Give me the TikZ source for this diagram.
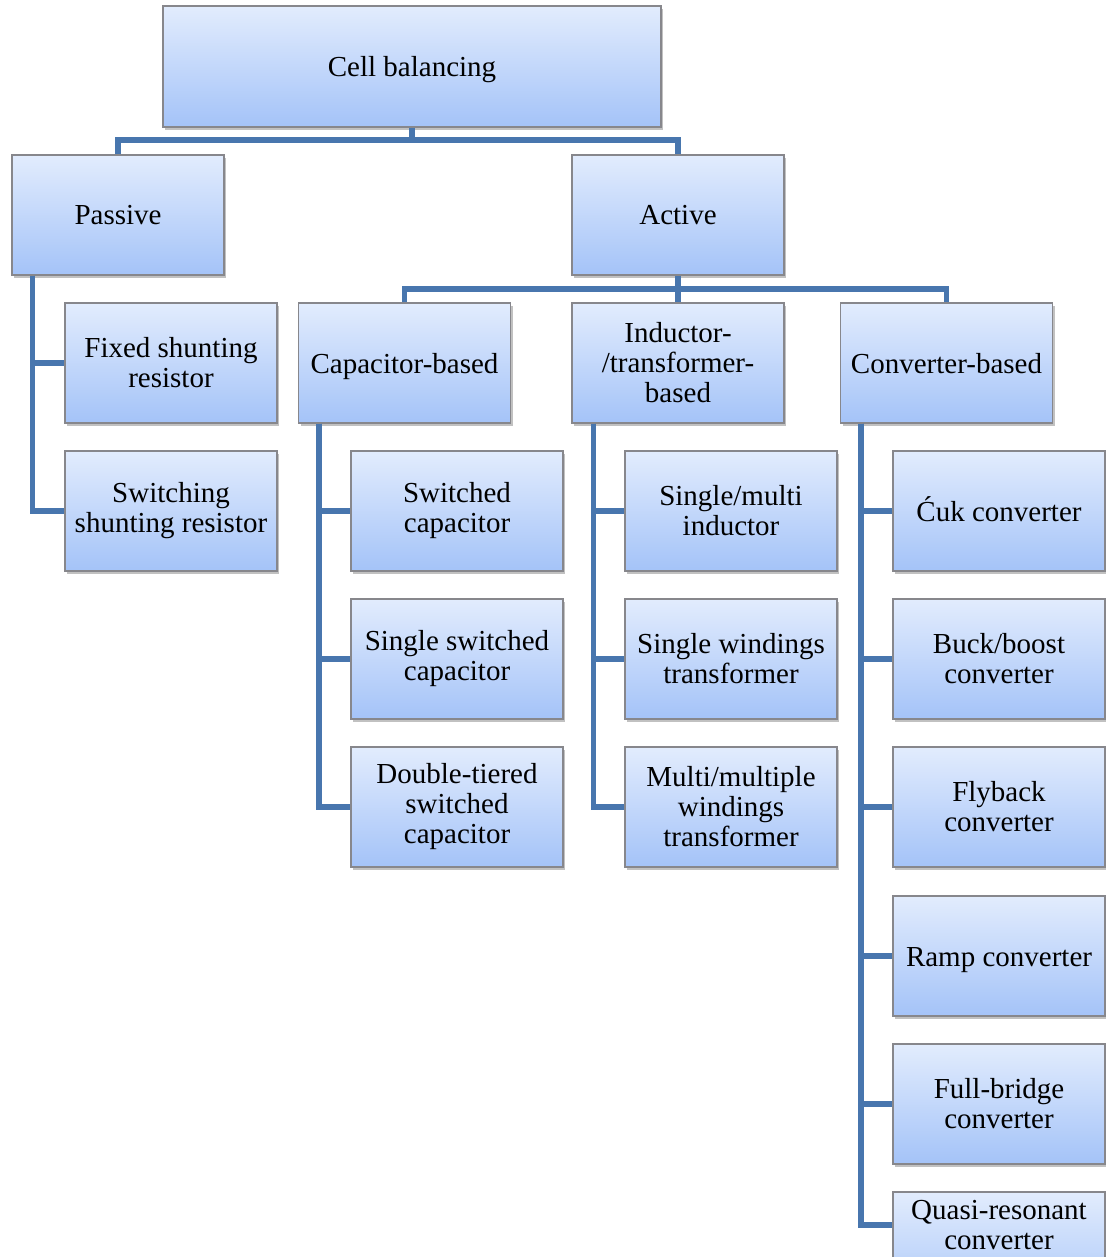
\documentclass[tikz,border=0pt]{standalone}
\usepackage{fontspec}
\setmainfont{Liberation Serif}
\usetikzlibrary{shadows}
\definecolor{boxtop}{RGB}{226,236,253}
\definecolor{boxbottom}{RGB}{164,195,248}
\definecolor{boxedge}{RGB}{135,135,140}
\definecolor{linkblue}{RGB}{72,118,174}
\tikzset{
  box/.style={draw=boxedge, line width=0.6pt, top color=boxtop, bottom color=boxbottom,
    drop shadow={shadow xshift=1.2pt, shadow yshift=-1.6pt, opacity=0.35, fill=black!70},
    minimum width=106pt, minimum height=60pt, inner sep=0pt, align=center,
    font=\fontsize{14.5pt}{15pt}\selectfont},
  onebox/.style={box, text height=11pt, text depth=1pt},
  txt/.style={inner sep=0pt, align=center, font=\fontsize{14.5pt}{15pt}\selectfont},
  conn/.style={draw=linkblue, line width=2.7pt, line join=miter}
}
\begin{document}
\begin{tikzpicture}[x=0.5pt, y=-0.5pt]
\clip (0,0) rectangle (1106,1257);
% top level
\node[onebox, minimum width=249pt, minimum height=60.5pt] (root) at (412,66.5) {Cell balancing};
\node[onebox] (passive) at (118,215) {Passive};
\node[onebox] (active) at (678,215) {Active};
% passive branch
\node[box] (fixed) at (171,363) {Fixed shunting\\resistor};
\node[box] (switching) at (171,511) {Switching\\shunting resistor};
% active groups
\node[onebox] (cap) at (404.5,363) {Capacitor-based};
\node[box] (ind) at (678,363) {Inductor-\\/transformer-\\based};
\node[onebox] (conv) at (946.5,363) {Converter-based};
% capacitor-based
\node[box] (capA) at (457,511) {Switched\\capacitor};
\node[box] (capB) at (457,659) {Single switched\\capacitor};
\node[box] (capC) at (457,807) {Double-tiered\\switched\\capacitor};
% inductor/transformer-based
\node[box] (indA) at (731,511) {Single/multi\\inductor};
\node[box] (indB) at (731,659) {Single windings\\transformer};
\node[box] (indC) at (731,807) {Multi/multiple\\windings\\transformer};
% converter-based
\node[onebox] (convA) at (999,511) {Ćuk converter};
\node[box] (convB) at (999,659) {Buck/boost\\converter};
\node[box] (convC) at (999,807) {Flyback\\converter};
\node[onebox] (convD) at (999,956) {Ramp converter};
\node[box] (convE) at (999,1104) {Full-bridge\\converter};
\node[box] (convF) at (999,1252) {};
\node[txt] (convFtext) at (999,1225) {Quasi-resonant\\converter};
% connectors: top level
\coordinate (bus1) at (412,140);
\draw[conn] (root.south) -- (bus1);
\draw[conn] (passive.north) |- (bus1) -| (active.north);
% connectors: active groups
\coordinate (bus2) at (678,289);
\draw[conn] (active.south) -- (bus2);
\draw[conn] (cap.north) |- (bus2) -| (conv.north);
\draw[conn] (bus2) -- (ind.north);
% spines
\coordinate (pS) at ([xshift=10.5pt]passive.south west);
\draw[conn] (pS) |- (fixed.west);
\draw[conn] (pS) |- (switching.west);
\coordinate (cS) at ([xshift=10.5pt]cap.south west);
\draw[conn] (cS) |- (capA.west);
\draw[conn] (cS) |- (capB.west);
\draw[conn] (cS) |- (capC.west);
\coordinate (iS) at ([xshift=11pt]ind.south west);
\draw[conn] (iS) |- (indA.west);
\draw[conn] (iS) |- (indB.west);
\draw[conn] (iS) |- (indC.west);
\coordinate (vS) at ([xshift=10.5pt]conv.south west);
\draw[conn] (vS) |- (convA.west);
\draw[conn] (vS) |- (convB.west);
\draw[conn] (vS) |- (convC.west);
\draw[conn] (vS) |- (convD.west);
\draw[conn] (vS) |- (convE.west);
\draw[conn] (vS) |- (convF.west |- convFtext);
\end{tikzpicture}
\end{document}
